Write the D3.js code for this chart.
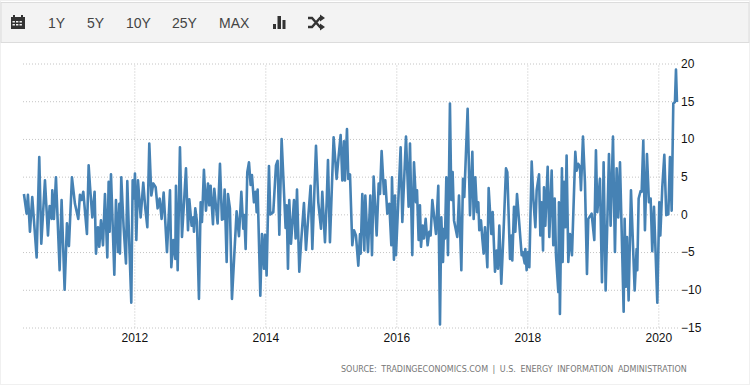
<!DOCTYPE html>
<html>
<head>
  <title>Chart</title>
  <meta charset="utf-8"/>
  <script src="https://d3js.org/d3.v7.min.js"></script>
  <style>
    html, body { margin: 0; padding: 0; background: #fff; overflow: hidden; }
    svg { display: block; }
    .grid line { stroke: #c4c4c4; stroke-dasharray: 1 2; }
    .grid path { display: none; }
    .grid text { font: 12px "Liberation Sans", Arial, sans-serif; fill: #111; }
    .btn { font: 14px "Liberation Sans", Arial, sans-serif; fill: #444; }
    .source { font: 8px "DejaVu Sans", sans-serif; fill: #777; word-spacing: 2px; }
  </style>
</head>
<body>
  <script>
    var years = [
      2010.315,2010.356,2010.376,2010.407,2010.442,2010.509,2010.549,2010.58,2010.636,2010.682,2010.707,2010.738,2010.748,2010.773,2010.804,2010.86,2010.89,2010.936,2010.972,2011.002,
      2011.048,2011.094,2011.145,2011.17,2011.196,2011.221,2011.277,2011.303,2011.323,2011.359,2011.394,2011.415,2011.445,2011.466,2011.491,2011.522,2011.552,2011.588,2011.608,2011.623,
      2011.644,2011.695,2011.72,2011.751,2011.771,2011.781,2011.801,2011.837,2011.873,2011.893,2011.919,2011.954,2011.975,2011.995,2012.01,2012.031,2012.056,2012.097,2012.137,2012.168,
      2012.199,2012.229,2012.26,2012.29,2012.326,2012.356,2012.387,2012.417,2012.448,2012.499,2012.545,2012.565,2012.596,2012.626,2012.636,2012.662,2012.697,2012.728,2012.789,2012.82,
      2012.84,2012.875,2012.901,2012.911,2012.931,2012.957,2012.987,2013.013,2013.033,2013.063,2013.094,2013.125,2013.145,2013.165,2013.201,2013.221,2013.272,2013.308,2013.338,2013.359,
      2013.379,2013.41,2013.43,2013.46,2013.491,2013.562,2013.598,2013.634,2013.664,2013.679,2013.7,2013.725,2013.751,2013.776,2013.796,2013.827,2013.852,2013.868,2013.883,2013.924,
      2013.949,2013.98,2013.995,2014.02,2014.056,2014.076,2014.122,2014.163,2014.188,2014.214,2014.249,2014.31,2014.326,2014.346,2014.366,2014.392,2014.438,2014.463,2014.484,2014.519,
      2014.545,2014.59,2014.621,2014.652,2014.692,2014.718,2014.774,2014.809,2014.85,2014.87,2014.911,2014.937,2014.957,2014.987,2015.043,2015.089,2015.12,2015.15,2015.176,2015.201,
      2015.216,2015.247,2015.267,2015.293,2015.328,2015.354,2015.384,2015.42,2015.446,2015.456,2015.481,2015.512,2015.527,2015.568,2015.603,2015.629,2015.654,2015.7,2015.731,2015.751,
      2015.776,2015.812,2015.832,2015.863,2015.893,2015.924,2015.934,2015.964,2015.98,2015.995,2016.066,2016.092,2016.148,2016.188,2016.209,2016.244,2016.27,2016.3,2016.316,2016.341,
      2016.361,2016.377,2016.402,2016.422,2016.448,2016.478,2016.504,2016.524,2016.55,2016.606,2016.641,2016.667,2016.687,2016.713,2016.728,2016.743,2016.764,2016.789,2016.819,2016.84,
      2016.86,2016.881,2016.931,2016.957,2016.993,2017.018,2017.038,2017.089,2017.125,2017.161,2017.181,2017.206,2017.232,2017.252,2017.267,2017.293,2017.313,2017.334,2017.354,2017.39,
      2017.41,2017.451,2017.471,2017.507,2017.532,2017.552,2017.573,2017.603,2017.634,2017.675,2017.695,2017.736,2017.756,2017.771,2017.797,2017.817,2017.843,2017.914,2017.929,2017.96,
      2017.97,2017.99,2018.011,2018.031,2018.067,2018.092,2018.123,2018.143,2018.179,2018.199,2018.219,2018.24,2018.255,2018.275,2018.311,2018.336,2018.372,2018.397,2018.418,2018.438,
      2018.474,2018.483,2018.498,2018.529,2018.539,2018.56,2018.58,2018.6,2018.626,2018.651,2018.682,2018.733,2018.753,2018.778,2018.804,2018.819,2018.85,2018.88,2018.911,2018.931,
      2018.982,2019.023,2019.048,2019.069,2019.109,2019.14,2019.165,2019.196,2019.247,2019.272,2019.308,2019.338,2019.364,2019.389,2019.415,2019.471,2019.486,2019.506,2019.522,2019.547,
      2019.583,2019.639,2019.669,2019.679,2019.7,2019.73,2019.746,2019.771,2019.796,2019.827,2019.857,2019.883,2019.908,2019.934,2019.985,2020.015,2020.031,2020.061,2020.092,2020.122,
      2020.153,2020.178,2020.204,2020.229,2020.254,2020.27,2020.285
    ];
    var values = [
      2.7,0.1,2.6,-2.3,2.3,-5.7,7.6,-3.9,4.5,-2.8,1.1,-0.6,3.2,-0.6,4.9,-7.4,1.9,-10,-1.2,-4.2,
      4.9,1.4,-0.6,2.6,1.9,3.0,-2.6,6.5,3.8,-0.4,3.0,-5.2,-1.7,-4.3,-0.8,-4.1,2.7,-5.7,4.3,-2.3,
      5.3,-8,1.9,-5,1.4,-5.2,4.9,-1.7,-6.5,4.4,-2.8,-11.7,4.5,2.1,5.4,-3.4,4.5,-0.4,4.2,0.8,
      -1.7,9.4,2.5,4.1,3.6,0.8,2.1,-0.6,2.9,-5,3.2,-7,-3.4,-5.9,3.8,-7.4,8.9,-3,6.1,-2.1,
      2,-1.5,-0.4,-2.3,0.8,-1,-11.2,1.6,-1,5.9,0.5,4.1,1.2,3.8,-1.3,3.4,-1.2,6.7,-0.7,-0.6,
      3.3,-6.3,2.7,0.8,-11.2,0.4,-2.9,3,-1.9,-0.1,-4.6,5.6,6.9,3.9,5.2,1.6,3,0.3,3.3,-10.8,
      -2.6,-7.2,-2.7,-8.1,6.4,0,0.3,6.5,7.1,-2.7,10,-1.8,1.2,-7.2,1.9,-3.9,1.9,-3.2,3.3,-7.6,
      -3.9,1.5,-4.7,-0.8,3.8,-4.6,9.1,1.6,-1.9,3,-3.7,1.6,7.2,-3.7,10.2,4.7,7.8,10.5,4.5,9.7,
      4.5,11.3,4.7,5.3,-4.1,-2.1,-2.8,-6.8,-2.6,-5.2,2.7,-4.8,2.5,-5,2.5,-5.4,5,-2.8,4.1,2.7,
      8.4,2.7,4.5,0.1,1.4,-4.1,4.9,-6,2.5,-5.4,8.9,-1,10.3,1,9.4,-5.4,6.9,1.6,3.2,-3.4,
      1.2,-4.3,-1.5,-3.2,-0.6,-4.1,-2.3,-2.8,1.9,-2.6,3.8,-14.6,-0.4,-6.3,-1.9,-3.2,4.9,-5.4,14.7,1.9,
      5.6,-0.8,-3,2.5,-7.4,4.7,2.3,14,-0.1,8.3,-0.6,4.9,0.3,1.6,-2.1,-0.8,-3.2,-5.2,-1.7,-7,
      3.5,-2.6,0.3,-7.6,-4.8,-7.2,-1.5,-9.2,-3,6.1,5.6,-5.9,-2.8,-6.1,1,-2.3,2.7,-5.4,-5,-6.5,
      -4.6,-7.4,-5,-7,7,2.1,-1.7,3.2,5.3,-2.8,1.6,-4.8,3.6,-1.5,6.3,-3,5.8,-4.1,2.1,-5.4,
      -10.3,1.6,-13.2,6.1,-6.3,4.3,-1.7,7.8,-6.3,-2.6,-5.4,8.3,5.8,6.7,6.3,3.2,10.3,4.3,-7.9,-0.6,
      0.1,-3.4,8.5,0.3,4.7,-9,6.9,-10.1,8,-1.5,10.3,-5,6.1,-0.4,6.9,-12.9,-0.6,-9.6,-3,-11.4,
      3.2,-10.1,-4.6,-7.4,2.1,3.1,3,9.8,-2.1,8,1.6,2.1,-4.9,1,-11.7,1.6,-2.8,3.6,7.9,-0.1,
      0,7.6,0.5,14.7,14.9,19.2,14.9
    ];
    var xTicks = [2012, 2014, 2016, 2018, 2020];
    var yTicks = [-15, -10, -5, 0, 5, 10, 15, 20];
    var buttons = ["1Y", "5Y", "10Y", "25Y", "MAX"];
    var buttonX = [48, 87, 126, 172, 219];

    var svg = d3.select("body").append("svg").attr("width", 756).attr("height", 387);

    // frame + toolbar
    svg.append("rect").attr("x", 0.5).attr("y", 0.5).attr("width", 749).attr("height", 384)
      .attr("fill", "#fff").attr("stroke", "#f0f0f0");
    svg.append("rect").attr("x", 1).attr("y", 2.5).attr("width", 748).attr("height", 40)
      .attr("fill", "#f3f3f3").attr("stroke", "#dcdcdc");

    svg.selectAll(".btn").data(buttons).enter().append("text")
      .attr("class", "btn")
      .attr("x", function(d, i) { return buttonX[i]; })
      .attr("y", 28)
      .text(function(d) { return d; });

    // calendar icon
    var icons = svg.append("g").attr("fill", "#333");
    icons.append("path").attr("fill-rule", "evenodd")
      .attr("d", "M11 17h2v-2h2v2h6v-2h2v2h2v12h-14z M12.5 21v1.6h2.4v-1.6z M16 21v1.6h2.4v-1.6z M19.500 21v1.6h2.4v-1.6z M12.5 24v1.600h2.400v-1.600z M16 24v1.600h2.400v-1.600z M19.500 24v1.600h2.400v-1.600z");
    // bars icon
    icons.append("path").attr("d", "M273 24h3v5h-3z M277.500 16h3.500v13h-3.500z M282.500 20h3v9h-3z");
    // shuffle icon
    icons.append("path").attr("fill", "none").attr("stroke", "#333").attr("stroke-width", 2.4)
      .attr("d", "M308 18h4l8 9h2 M308 27h4l8 -9h2");
    icons.append("path").attr("d", "M320 14.500l5 3.500l-5 3.500z M320 23.500l5 3.500l-5 3.500z");

    var x = d3.scaleLinear().domain([2012, 2020]).range([134.3, 658.3]);
    var y = d3.scaleLinear().domain([-15, 20]).range([327.5, 63.5]);

    svg.append("g").attr("class", "grid")
      .attr("transform", "translate(0,327.5)")
      .call(d3.axisBottom(x).tickValues(xTicks).tickFormat(d3.format("d")).tickSize(-264).tickPadding(6))
      .selectAll("text").attr("dy", "0.71em");

    var yAxis = svg.append("g").attr("class", "grid")
      .attr("transform", "translate(678,0)")
      .call(d3.axisRight(y).tickValues(yTicks).tickSize(-655).tickPadding(3));

    var line = d3.line()
      .x(function(d, i) { return x(years[i]); })
      .y(function(d) { return y(d); });

    svg.append("path").datum(values)
      .attr("fill", "none")
      .attr("stroke", "#4682b4")
      .attr("stroke-width", 2.6)
      .attr("stroke-linejoin", "round")
      .attr("d", line);

    svg.append("text").attr("class", "source")
      .attr("x", 341).attr("y", 372)
      .text("SOURCE: TRADINGECONOMICS.COM | U.S. ENERGY INFORMATION ADMINISTRATION");
  </script>
</body>
</html>
